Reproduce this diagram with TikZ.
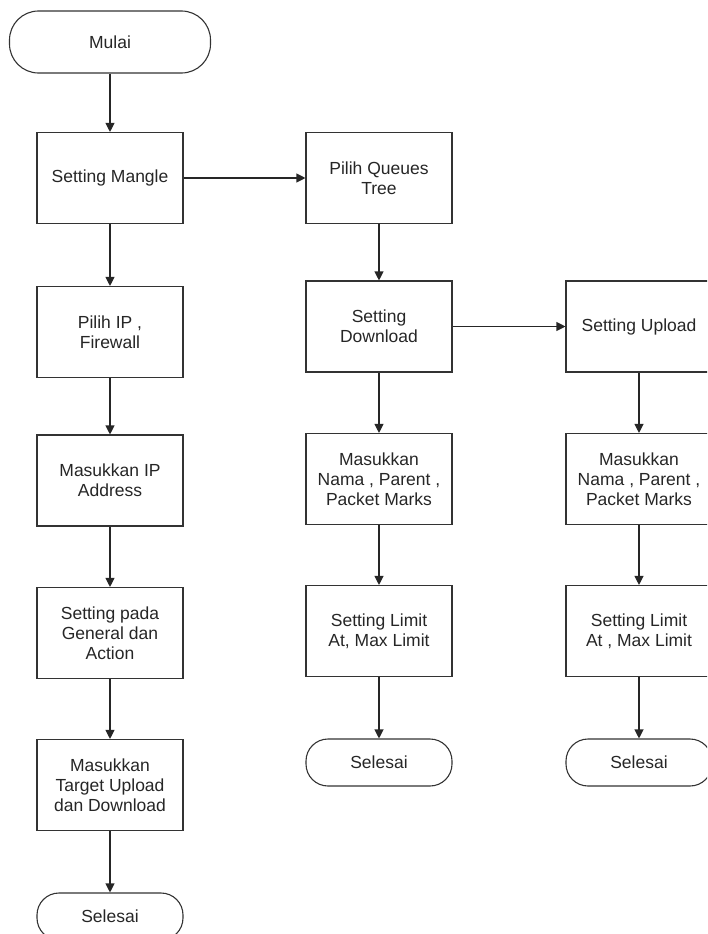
\documentclass[tikz,border=0pt]{standalone}
\usepackage{fontspec}
\setmainfont{Liberation Sans}
\usetikzlibrary{arrows.meta, positioning}

\begin{document}
\begin{tikzpicture}[x=1pt, y=-1pt,
  every node/.style={font=\fontsize{17.5}{20}\selectfont, text=black!85, align=center},
  proses/.style={draw=black!80, line width=1.1pt, minimum width=146pt, minimum height=91pt, inner sep=0pt},
  terminal/.style={draw=black!80, line width=1.1pt, minimum width=146pt, minimum height=47pt, rounded corners=22pt, inner sep=0pt},
  alur/.style={draw=black!85, line width=1.1pt, -{Triangle[width=9pt,length=9pt]}}]
  \useasboundingbox (0,0) rectangle (707,934);
  \clip (0,0) rectangle (707,934);
  % Kolom kiri: mangle
  \node[terminal, minimum width=201pt, minimum height=62pt, rounded corners=29pt] (mulai) at (110,42) {Mulai};
  \node[proses] (mangle) at (110,178) {Setting Mangle};
  \node[proses] (pilihip) at (110,332) {Pilih IP ,\\Firewall};
  \node[proses] (masukip) at (110,480.5) {Masukkan IP\\Address};
  \node[proses] (general) at (110,633) {Setting pada\\General dan\\Action};
  \node[proses] (target) at (110,785) {Masukkan\\Target Upload\\dan Download};
  \node[terminal] (selesaiA) at (110,916.5) {Selesai};
  % Kolom tengah: download
  \node[proses] (queues) at (379,178) {Pilih Queues\\Tree};
  \node[proses] (download) at (379,326.5) {Setting\\Download};
  \node[proses] (namaA) at (379,479) {Masukkan\\Nama , Parent ,\\Packet Marks};
  \node[proses] (limitA) at (379,631) {Setting Limit\\At, Max Limit};
  \node[terminal] (selesaiB) at (379,762.5) {Selesai};
  % Kolom kanan: upload
  \node[proses] (upload) at (639,326.5) {Setting Upload};
  \node[proses] (namaB) at (639,479) {Masukkan\\Nama , Parent ,\\Packet Marks};
  \node[proses] (limitB) at (639,631) {Setting Limit\\At , Max Limit};
  \node[terminal] (selesaiC) at (639,762.5) {Selesai};
  % Panah
  \draw[alur] (mulai) -- (mangle);
  \draw[alur] (mangle) -- (pilihip);
  \draw[alur] (pilihip) -- (masukip);
  \draw[alur] (masukip) -- (general);
  \draw[alur] (general) -- (target);
  \draw[alur] (target) -- (selesaiA);
  \draw[alur] (mangle) -- (queues);
  \draw[alur] (queues) -- (download);
  \draw[alur] (download) -- (namaA);
  \draw[alur] (namaA) -- (limitA);
  \draw[alur] (limitA) -- (selesaiB);
  \draw[alur] (download) -- (upload);
  \draw[alur] (upload) -- (namaB);
  \draw[alur] (namaB) -- (limitB);
  \draw[alur] (limitB) -- (selesaiC);
\end{tikzpicture}
\end{document}
